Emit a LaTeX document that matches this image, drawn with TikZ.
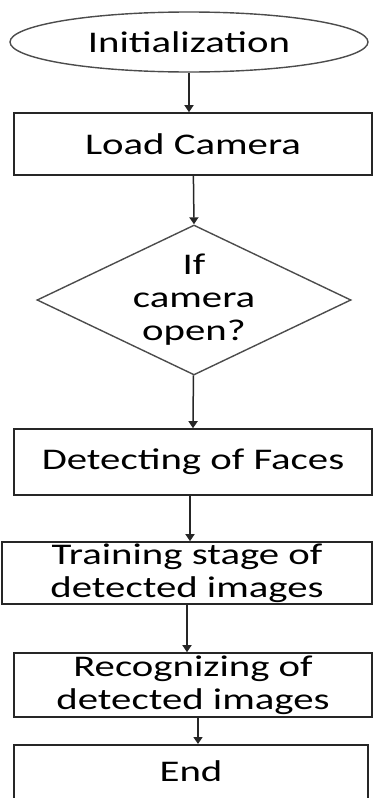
\documentclass[tikz,border=0pt]{standalone}
\usepackage{fontspec}
\newfontfamily\flowfont[FakeStretch=1.36]{Carlito}
\usetikzlibrary{shapes.geometric,arrows.meta}

\begin{document}
\begin{tikzpicture}[x=1pt,y=-1pt,
        every node/.style={font=\flowfont\fontsize{30}{33}\selectfont, align=center, inner sep=0pt},
        box/.style={draw=black!85, line width=1.6pt, minimum width=358pt, minimum height=62pt},
        start/.style={ellipse, draw=black!70, line width=1.4pt, minimum width=358pt, minimum height=60pt},
        decision/.style={diamond, draw=black!70, line width=1.4pt, minimum width=314pt, minimum height=150pt},
        arr/.style={draw=black!85, line width=1.5pt, -{Triangle[width=9pt,length=7pt]}}]
                \useasboundingbox (0,0) rectangle (373,798);
                \node[start] (init) at (189,42) {Initialization};
                \node[box] (load) at (193,144) {Load Camera};
                \node[decision] (check) at (194,300) {};
                \node (checktxt) at (check) {If\\camera\\open?};
                \node[box, minimum height=66pt] (detect) at (193,462) {Detecting of Faces};
                \node[box, minimum width=370pt] (train) at (187,573) {Training stage of\\detected images};
                \node[box, minimum height=64pt] (recog) at (193,685) {Recognizing of\\detected images};
                \node[box, minimum width=354pt, minimum height=70pt, anchor=north] (stop) at (191,744) {};
                \node (stoptxt) at (191,771) {End};
                \draw[arr] (init) -- (init |- load.north);
                \draw[arr] (load) -- (check.north);
                \draw[arr] (check) -- (detect.north);
                \draw[arr] ([xshift=-3pt]detect.south) -- ([xshift=-3pt]detect.south |- train.north);
                \draw[arr] (train) -- (train |- recog.north);
                \draw[arr] ([xshift=5pt]recog.south) -- ([xshift=5pt]recog.south |- stop.north);
            \end{tikzpicture}
\end{document}
